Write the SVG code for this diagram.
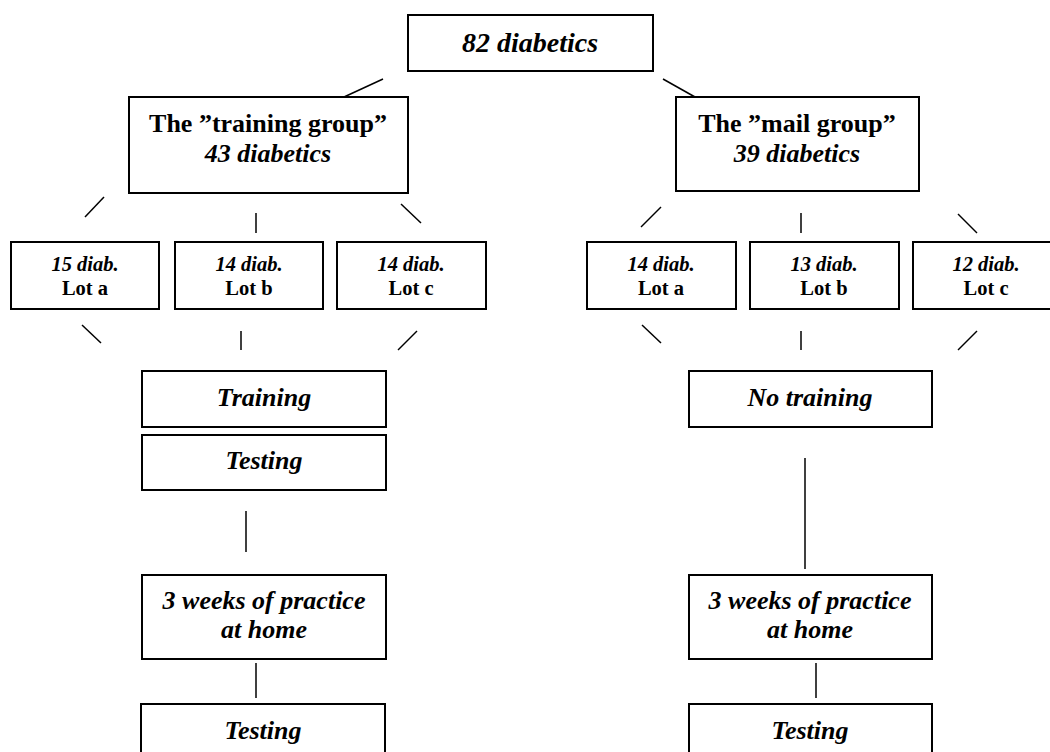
<svg xmlns="http://www.w3.org/2000/svg" width="1050" height="752" viewBox="0 0 1050 752">
<style>
.box{fill:#fff;stroke:#000;stroke-width:2}
.t{font-family:"Liberation Serif","Times New Roman",serif;font-weight:bold;text-anchor:middle;fill:#000}
.i{font-style:italic}
.big{font-size:26px}
.top{font-size:28px}
.sm{font-size:20.5px}
.ln{stroke:#000;stroke-width:1.5;fill:none}
</style>
<rect width="1050" height="752" fill="#fff"/>
<g id="connectors">
<line class="ln" x1="383" y1="79" x2="344" y2="97"/>
<line class="ln" x1="663" y1="79" x2="695" y2="97"/>
<line class="ln" x1="104" y1="197" x2="85" y2="217"/>
<line class="ln" x1="256" y1="213" x2="256" y2="233"/>
<line class="ln" x1="401" y1="204" x2="421" y2="223"/>
<line class="ln" x1="82" y1="325" x2="101" y2="343"/>
<line class="ln" x1="241" y1="331" x2="241" y2="350"/>
<line class="ln" x1="417" y1="331" x2="398" y2="350"/>
<line class="ln" x1="246" y1="511" x2="246" y2="552"/>
<line class="ln" x1="256" y1="663" x2="256" y2="698"/>
<line class="ln" x1="661" y1="207" x2="641" y2="227"/>
<line class="ln" x1="801" y1="213" x2="801" y2="233"/>
<line class="ln" x1="958" y1="214" x2="977" y2="233"/>
<line class="ln" x1="642" y1="325" x2="661" y2="343"/>
<line class="ln" x1="801" y1="331" x2="801" y2="350"/>
<line class="ln" x1="977" y1="331" x2="958" y2="350"/>
<line class="ln" x1="805" y1="458" x2="805" y2="569"/>
<line class="ln" x1="816" y1="663" x2="816" y2="698"/>
</g>
<g id="root">
<rect class="box" x="408" y="15" width="245" height="56"/>
<text class="t i top" x="530" y="52">82 diabetics</text>
</g>
<g id="training-group">
<rect class="box" x="129" y="97" width="279" height="96"/>
<text class="t big" x="268" y="132">The ”training group”</text>
<text class="t i big" x="268" y="162">43 diabetics</text>
</g>
<g id="mail-group">
<rect class="box" x="676" y="97" width="243" height="94"/>
<text class="t big" x="797" y="132">The ”mail group”</text>
<text class="t i big" x="797" y="162">39 diabetics</text>
</g>
<g id="t-lot-a">
<rect class="box" x="11" y="242" width="148" height="67"/>
<text class="t i sm" x="85" y="271">15 diab.</text>
<text class="t sm" x="85" y="295">Lot a</text>
</g>
<g id="t-lot-b">
<rect class="box" x="175" y="242" width="148" height="67"/>
<text class="t i sm" x="249" y="271">14 diab.</text>
<text class="t sm" x="249" y="295">Lot b</text>
</g>
<g id="t-lot-c">
<rect class="box" x="337" y="242" width="149" height="67"/>
<text class="t i sm" x="411" y="271">14 diab.</text>
<text class="t sm" x="411" y="295">Lot c</text>
</g>
<g id="m-lot-a">
<rect class="box" x="587" y="242" width="149" height="67"/>
<text class="t i sm" x="661" y="271">14 diab.</text>
<text class="t sm" x="661" y="295">Lot a</text>
</g>
<g id="m-lot-b">
<rect class="box" x="750" y="242" width="149" height="67"/>
<text class="t i sm" x="824" y="271">13 diab.</text>
<text class="t sm" x="824" y="295">Lot b</text>
</g>
<g id="m-lot-c">
<rect class="box" x="913" y="242" width="148" height="67"/>
<text class="t i sm" x="986" y="271">12 diab.</text>
<text class="t sm" x="986" y="295">Lot c</text>
</g>
<g id="training">
<rect class="box" x="142" y="371" width="244" height="56"/>
<text class="t i big" x="264" y="406">Training</text>
</g>
<g id="testing-1">
<rect class="box" x="142" y="435" width="244" height="55"/>
<text class="t i big" x="264" y="469">Testing</text>
</g>
<g id="practice-left">
<rect class="box" x="142" y="575" width="244" height="84"/>
<text class="t i big" x="264" y="609">3 weeks of practice</text>
<text class="t i big" x="264" y="638">at home</text>
</g>
<g id="testing-left">
<rect class="box" x="141" y="704" width="244" height="60"/>
<text class="t i big" x="263" y="739">Testing</text>
</g>
<g id="no-training">
<rect class="box" x="689" y="371" width="243" height="56"/>
<text class="t i big" x="810" y="406">No training</text>
</g>
<g id="practice-right">
<rect class="box" x="689" y="575" width="243" height="84"/>
<text class="t i big" x="810" y="609">3 weeks of practice</text>
<text class="t i big" x="810" y="638">at home</text>
</g>
<g id="testing-right">
<rect class="box" x="689" y="704" width="243" height="60"/>
<text class="t i big" x="810" y="739">Testing</text>
</g>
</svg>
